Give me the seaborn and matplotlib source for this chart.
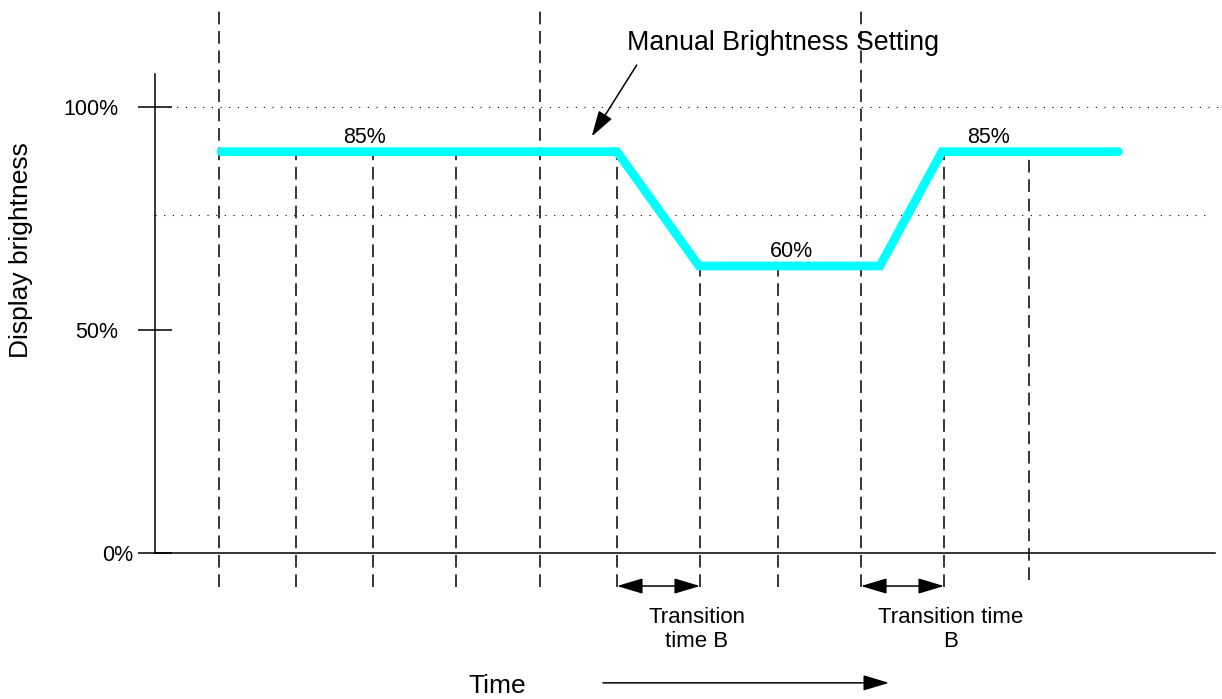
import matplotlib

matplotlib.use("Agg")
import matplotlib.pyplot as plt
import matplotlib.transforms as mtransforms
import numpy as np
import pandas as pd
import seaborn as sns

sns.set_style("white")
plt.rcParams["font.family"] = ["Liberation Sans", "DejaVu Sans"]
plt.rcParams["text.color"] = "black"
plt.rcParams["axes.labelcolor"] = "black"
plt.rcParams["ytick.color"] = "black"

# brightness curve (time in arbitrary units, brightness in %)
curve_time = [6.6, 46.2, 54.4, 72.5, 78.7, 96.35]
curve_brightness = [89.9, 89.9, 64.3, 64.3, 89.9, 89.9]

# vertical dashed guide lines
guide_time = [6.4, 14.1, 21.8, 30.1, 38.5, 46.2, 54.5, 62.3, 70.6, 78.9, 87.4]
guide_top = [121.7, 89.9, 89.9, 89.9, 121.7, 89.9, 64.3, 64.3, 121.7, 89.9, 89.9]
guide_bottom = [-7.6, -7.6, -7.6, -7.6, -7.6, -7.6, -7.6, -7.6, -7.6, -7.6, -6.0]

# dotted reference levels
ref_levels = [100, 75.7]

# level labels
level_labels = ["85%", "60%", "85%"]
level_label_time = [20.9, 63.6, 83.3]
level_label_y = [91.9, 66.4, 91.9]

# transition periods
transitions = [(46.2, 54.5), (70.6, 78.9)]
transition_labels = ["Transition\ntime B", "Transition time\nB"]
transition_label_x = [54.2, 79.55]

ytick_values = [0, 50, 100]
ytick_labels = ["0%", "50%", "100%"]

df = pd.DataFrame({"time": curve_time, "brightness": curve_brightness})

fig = plt.figure(figsize=(12.22, 6.99), dpi=100)
ax = fig.add_axes([155 / 1222, 146 / 699, 1060 / 1222, 479 / 699])

sns.lineplot(
    data=df, x="time", y="brightness", ax=ax, sort=False,
    color="#00FFFF", linewidth=6.3, solid_capstyle="round", solid_joinstyle="miter",
    zorder=3,
)

ax.vlines(guide_time, guide_bottom, guide_top, colors="black", linewidth=1.1,
          linestyles=(0, (8.3, 4.4)), clip_on=False, zorder=2)

ax.plot([1.3, 106.7], [ref_levels[0]] * 2, color="black", lw=0.8,
        linestyle=(0, (1.0, 6.8)), clip_on=False, zorder=1)
ax.plot([0, 105.2], [ref_levels[1]] * 2, color="black", lw=0.8,
        linestyle=(0, (1.0, 6.8)), clip_on=False, zorder=1)

for lab, t, y in zip(level_labels, level_label_time, level_label_y):
    ax.text(t, y, lab, ha="center", va="baseline", fontsize=15.5)

arrow_kw = dict(arrowstyle="<|-|>,head_length=1.1,head_width=0.33",
                mutation_scale=14.5, color="black", lw=1.1, shrinkA=0, shrinkB=0)
for (t0, t1), lab, lx in zip(transitions, transition_labels, transition_label_x):
    ax.annotate("", xy=(t1, -7.4), xytext=(t0, -7.4), arrowprops=arrow_kw,
                annotation_clip=False)
    # baseline of the last line
    ax.text(lx, -21.06, lab, ha="center", va="baseline", fontsize=16,
            multialignment="center", linespacing=1.2, clip_on=False)

one_way = dict(arrowstyle="-|>,head_length=1.1,head_width=0.33",
               mutation_scale=14.5, color="black", lw=1.1, shrinkA=0, shrinkB=0)

ax.text(47.17, 112.7, "Manual Brightness Setting", ha="left", va="baseline",
        fontsize=19.3, clip_on=False)
ax.annotate("", xy=(43.67, 93.3), xytext=(48.17, 109.3), arrowprops=one_way,
            annotation_clip=False)

ax.annotate("", xy=(0.6925, -0.2711), xytext=(0.4226, -0.2711),
            xycoords="axes fraction", arrowprops=one_way, annotation_clip=False)

ax.set_xlim(0, 106)
ax.set_ylim(0, 107.3)
ax.set_xticks([])
ax.set_yticks(ytick_values)
ax.set_yticklabels(ytick_labels, fontsize=15.5)
ax.tick_params(axis="y", direction="inout", length=23.8, width=1.1,
               pad=14.7, color="black", labelcolor="black", left=True)
zero_lab = ax.get_yticklabels()[0]
zero_lab.set_transform(zero_lab.get_transform()
                       + mtransforms.ScaledTranslation(0.15, 0, fig.dpi_scale_trans))

ax.set_ylabel("Display brightness", fontsize=19)
ax.yaxis.set_label_coords(-0.1151, 0.6326)
ax.set_xlabel("Time", fontsize=19)
ax.xaxis.set_label_coords(0.3226, -0.2923)
ax.xaxis.label.set_va("baseline")

for side in ["top", "right"]:
    ax.spines[side].set_visible(False)
for side in ["left", "bottom"]:
    ax.spines[side].set_color("black")
    ax.spines[side].set_linewidth(1.1)

fig.savefig("out.png", dpi=100)
